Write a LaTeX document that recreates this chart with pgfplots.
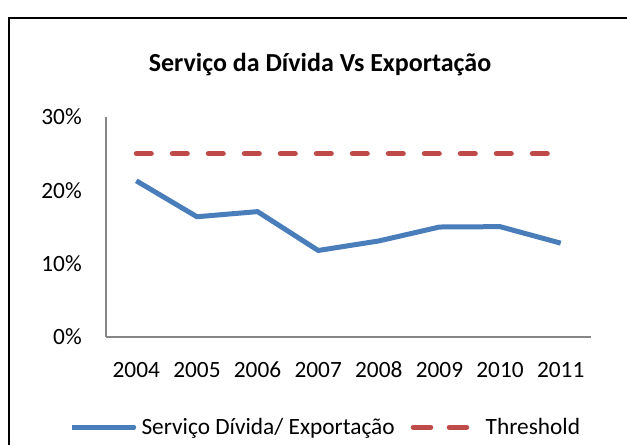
\documentclass[border=0pt]{standalone}
\usepackage{fontspec}
\setmainfont{Carlito}
\usepackage{pgfplots}
\pgfplotsset{compat=1.18}
\definecolor{sblue}{HTML}{4A7EBB}
\definecolor{sred}{HTML}{BE4B48}
\definecolor{agray}{HTML}{868686}
\begin{document}
\begin{tikzpicture}
\useasboundingbox (0,0) rectangle (470.25pt,-333pt);
\draw[black, line width=1.1pt] (6.75pt,-340pt) -- (6.75pt,-13.5pt) -- (480pt,-13.5pt);
\node[font=\fontsize{19.5}{23}\selectfont\bfseries, anchor=base, inner sep=0pt] at (240pt,-53.25pt) {Serviço da Dívida Vs Exportação};
\begin{axis}[
  at={(79.5pt,-252.75pt)}, anchor=south west,
  scale only axis, width=363.75pt, height=165pt,
  xmin=-0.5, xmax=7.5, ymin=0, ymax=30,
  axis x line*=bottom, axis y line*=left,
  axis line style={agray, line width=1.1pt, -},
  xtick={0,...,7}, xticklabels={2004,2005,2006,2007,2008,2009,2010,2011},
  ytick={0,10,20,30},
  yticklabel={\pgfmathprintnumber{\tick}\%},
  /pgf/number format/assume math mode=true,
  major tick length=0pt,
  tick label style={font=\fontsize{17.5}{21}\selectfont, inner sep=0pt},
  yticklabel style={anchor=east, xshift=-18pt},
  xticklabel style={anchor=base, yshift=-30.5pt},
  legend columns=2,
  legend style={at={(0.4515,-0.41)}, anchor=center, draw=none, fill=none,
    font=\fontsize{17.5}{21}\selectfont,
    nodes={inner sep=0pt},
    /tikz/every odd column/.append style={column sep=3pt},
    /tikz/every even column/.append style={column sep=12pt}},
]
\addplot[sblue, line width=3.75pt, line join=round, legend image code/.code={\path (0pt,0pt) -- (47pt,0pt);\draw[sblue, line width=3.75pt, line cap=round] (1.9pt,0pt) -- (46pt,0pt);}]
coordinates {(0,21.3) (1,16.4) (2,17.1) (3,11.8) (4,13.1) (5,15.0) (6,15.05) (7,12.8)};
\addlegendentry{Serviço Dívida/ Exportação}
\addplot[sred, line width=3.75pt, line cap=round, dash pattern=on 11.25pt off 15.75pt, legend image code/.code={\path (0pt,0pt) -- (49.5pt,0pt);\draw[sred, line width=3.75pt, line cap=round, dash pattern=on 11.25pt off 15.75pt] (1.9pt,0pt) -- (40.1pt,0pt);}]
coordinates {(0,25) (1,25) (2,25) (3,25) (4,25) (5,25) (6,25) (7,25)};
\addlegendentry{Threshold}
\end{axis}
\end{tikzpicture}
\end{document}
